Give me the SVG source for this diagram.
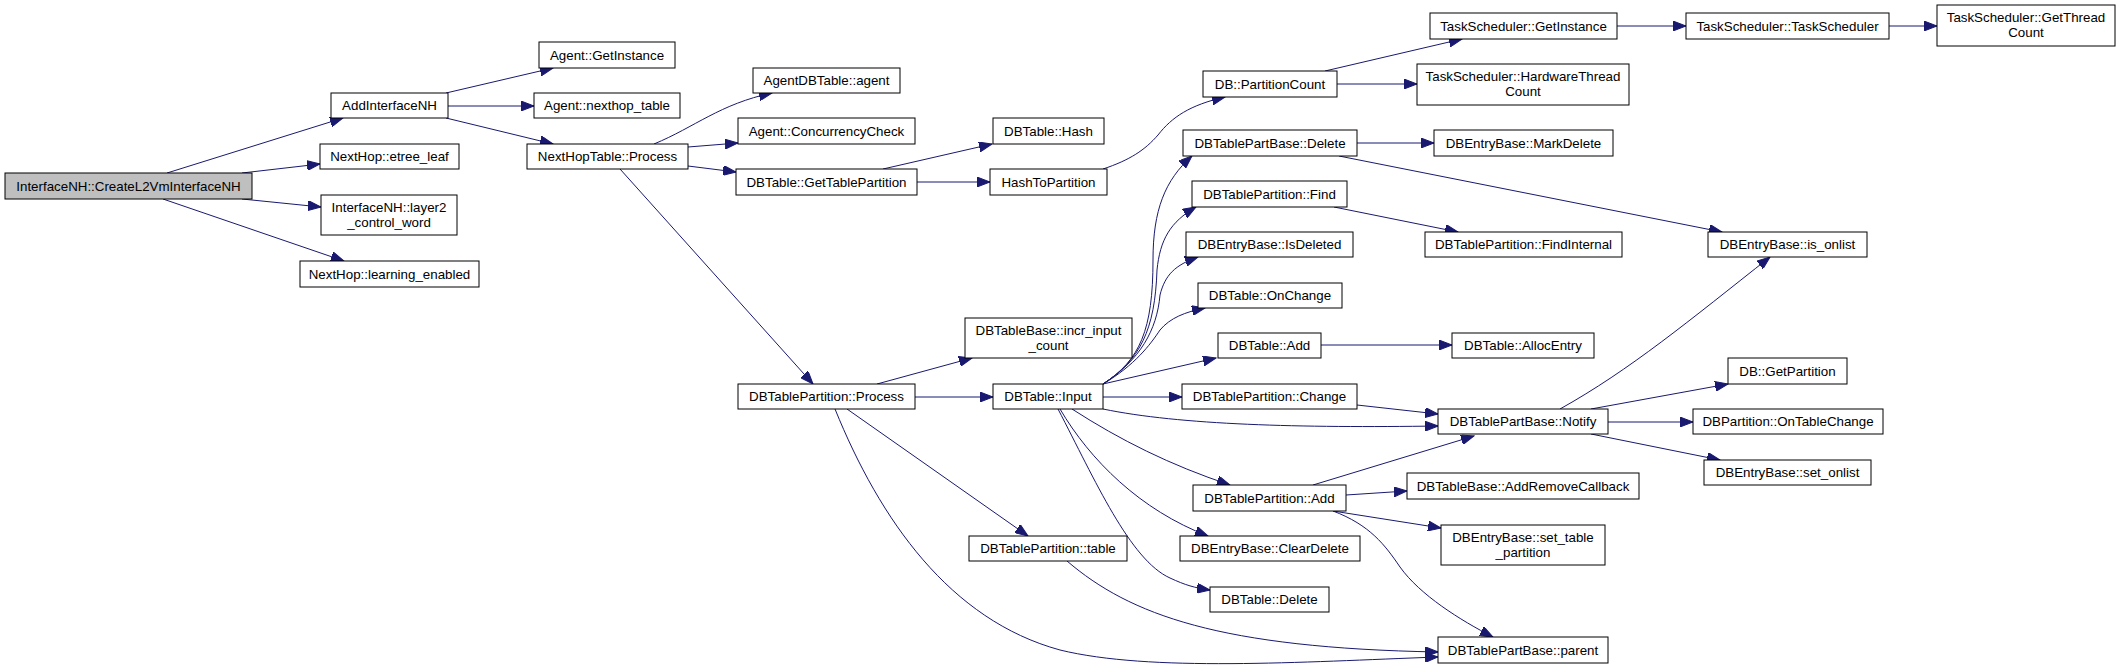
<svg xmlns="http://www.w3.org/2000/svg" width="2120" height="669" viewBox="0 0 2120 669">
<style>
.n rect{fill:#ffffff;stroke:#000000;stroke-width:1}
.n.root rect{fill:#bfbfbf}
.n text{font-family:"Liberation Sans",Arial,Helvetica,sans-serif;font-size:13.33px;text-anchor:middle;fill:#000000}
#edges path{fill:none;stroke:#191970;stroke-width:1;marker-end:url(#arr)}
</style>
<defs>
<marker id="arr" markerUnits="userSpaceOnUse" markerWidth="14" markerHeight="10" refX="13" refY="5" orient="auto">
<path d="M0,0 L13,5 L0,10 Z" fill="#191970" stroke="#191970"/>
</marker>
</defs>
<rect x="0" y="0" width="2120" height="669" fill="#ffffff"/>
<g id="edges">
<path d="M167,173 L343,118"/>
<path d="M242,173 L320,164"/>
<path d="M242,199 L321,207"/>
<path d="M163,199 L344,261"/>
<path d="M446,93 L553,68"/>
<path d="M448,106 L534,106"/>
<path d="M446,118 L553,144"/>
<path d="M654,144 C695,127 720,104 772,93"/>
<path d="M688,147 L738,143"/>
<path d="M688,166 L736,172"/>
<path d="M620,169 L813,384"/>
<path d="M883,169 L992,144"/>
<path d="M917,182 L990,182"/>
<path d="M1103,169 C1130,160 1145,150 1158,135 C1172,117 1190,105 1225,97"/>
<path d="M1325,71 L1462,39"/>
<path d="M1337,84 L1417,84"/>
<path d="M1617,26 L1686,26"/>
<path d="M1889,26 L1937,26"/>
<path d="M1357,143 L1434,143"/>
<path d="M1339,156 L1722,232"/>
<path d="M1334,207 L1458,232"/>
<path d="M1103,384 C1140,360 1153,330 1153,260 C1153,210 1165,180 1192,156"/>
<path d="M1103,384 C1140,360 1155,330 1157,270 C1160,240 1170,222 1196,207"/>
<path d="M1103,384 C1140,360 1157,330 1160,295 C1165,275 1175,265 1198,257"/>
<path d="M1103,384 C1135,365 1150,345 1160,330 C1170,318 1185,312 1205,308"/>
<path d="M1103,384 L1216,358"/>
<path d="M1103,397 L1182,397"/>
<path d="M1103,409 C1180,425 1300,428 1438,426"/>
<path d="M1072,409 C1120,440 1170,465 1230,485"/>
<path d="M1060,409 C1090,460 1140,510 1208,536"/>
<path d="M1058,409 C1095,480 1130,560 1170,578 C1185,585 1195,588 1210,590"/>
<path d="M1321,345 L1452,345"/>
<path d="M1357,405 L1438,414"/>
<path d="M1313,485 L1474,436"/>
<path d="M1346,495 L1407,491"/>
<path d="M1333,511 L1441,528"/>
<path d="M1333,511 C1370,525 1385,545 1400,567 C1420,595 1460,620 1493,637"/>
<path d="M1067,561 C1130,615 1220,648 1438,652"/>
<path d="M835,409 C880,520 950,620 1060,650 C1150,672 1300,662 1438,657"/>
<path d="M847,409 L1028,536"/>
<path d="M877,384 L972,358"/>
<path d="M915,397 L993,397"/>
<path d="M1560,409 C1630,370 1690,320 1770,257"/>
<path d="M1591,409 L1728,384"/>
<path d="M1608,422 L1693,422"/>
<path d="M1591,434 L1720,460"/>
</g>
<g id="n_create" class="n root"><rect x="5" y="173" width="247" height="26"/><text x="128.5" y="190.5">InterfaceNH::CreateL2VmInterfaceNH</text></g>
<g id="n_addif" class="n"><rect x="331" y="93" width="117" height="25"/><text x="389.5" y="110">AddInterfaceNH</text></g>
<g id="n_etree" class="n"><rect x="320" y="144" width="139" height="25"/><text x="389.5" y="161">NextHop::etree_leaf</text></g>
<g id="n_l2cw" class="n"><rect x="321" y="195" width="136" height="40"/><text x="389" y="211.5">InterfaceNH::layer2</text><text x="389" y="226.5">_control_word</text></g>
<g id="n_learn" class="n"><rect x="300" y="261" width="179" height="26"/><text x="389.5" y="278.5">NextHop::learning_enabled</text></g>
<g id="n_agentinst" class="n"><rect x="539" y="42" width="136" height="26"/><text x="607" y="59.5">Agent::GetInstance</text></g>
<g id="n_nhtable" class="n"><rect x="534" y="93" width="146" height="25"/><text x="607" y="110">Agent::nexthop_table</text></g>
<g id="n_nhtproc" class="n"><rect x="527" y="144" width="161" height="25"/><text x="607.5" y="161">NextHopTable::Process</text></g>
<g id="n_agentdb" class="n"><rect x="753" y="68" width="147" height="25"/><text x="826.5" y="85">AgentDBTable::agent</text></g>
<g id="n_conc" class="n"><rect x="738" y="118" width="177" height="26"/><text x="826.5" y="135.5">Agent::ConcurrencyCheck</text></g>
<g id="n_gtp" class="n"><rect x="736" y="169" width="181" height="26"/><text x="826.5" y="186.5">DBTable::GetTablePartition</text></g>
<g id="n_hash" class="n"><rect x="993" y="118" width="111" height="26"/><text x="1048.5" y="135.5">DBTable::Hash</text></g>
<g id="n_h2p" class="n"><rect x="990" y="169" width="117" height="26"/><text x="1048.5" y="186.5">HashToPartition</text></g>
<g id="n_pcount" class="n"><rect x="1203" y="71" width="134" height="26"/><text x="1270" y="88.5">DB::PartitionCount</text></g>
<g id="n_pbdel" class="n"><rect x="1183" y="130" width="174" height="26"/><text x="1270" y="147.5">DBTablePartBase::Delete</text></g>
<g id="n_find" class="n"><rect x="1192" y="181" width="155" height="26"/><text x="1269.5" y="198.5">DBTablePartition::Find</text></g>
<g id="n_isdel" class="n"><rect x="1186" y="232" width="167" height="25"/><text x="1269.5" y="249">DBEntryBase::IsDeleted</text></g>
<g id="n_onchange" class="n"><rect x="1198" y="283" width="144" height="25"/><text x="1270" y="300">DBTable::OnChange</text></g>
<g id="n_incr" class="n"><rect x="965" y="318" width="167" height="40"/><text x="1048.5" y="334.5">DBTableBase::incr_input</text><text x="1048.5" y="349.5">_count</text></g>
<g id="n_tadd" class="n"><rect x="1218" y="333" width="103" height="25"/><text x="1269.5" y="350">DBTable::Add</text></g>
<g id="n_tpproc" class="n"><rect x="738" y="384" width="177" height="25"/><text x="826.5" y="401">DBTablePartition::Process</text></g>
<g id="n_input" class="n"><rect x="993" y="384" width="110" height="25"/><text x="1048" y="401">DBTable::Input</text></g>
<g id="n_change" class="n"><rect x="1182" y="384" width="175" height="25"/><text x="1269.5" y="401">DBTablePartition::Change</text></g>
<g id="n_tpadd" class="n"><rect x="1193" y="485" width="153" height="26"/><text x="1269.5" y="502.5">DBTablePartition::Add</text></g>
<g id="n_tptable" class="n"><rect x="969" y="536" width="158" height="25"/><text x="1048" y="553">DBTablePartition::table</text></g>
<g id="n_cleardel" class="n"><rect x="1180" y="536" width="180" height="25"/><text x="1270" y="553">DBEntryBase::ClearDelete</text></g>
<g id="n_tdel" class="n"><rect x="1210" y="587" width="119" height="25"/><text x="1269.5" y="604">DBTable::Delete</text></g>
<g id="n_tsinst" class="n"><rect x="1430" y="13" width="187" height="26"/><text x="1523.5" y="30.5">TaskScheduler::GetInstance</text></g>
<g id="n_tsts" class="n"><rect x="1686" y="13" width="203" height="26"/><text x="1787.5" y="30.5">TaskScheduler::TaskScheduler</text></g>
<g id="n_tsgtc" class="n"><rect x="1937" y="5" width="178" height="41"/><text x="2026" y="21.5">TaskScheduler::GetThread</text><text x="2026" y="36.5">Count</text></g>
<g id="n_tshw" class="n"><rect x="1417" y="64" width="212" height="41"/><text x="1523" y="80.5">TaskScheduler::HardwareThread</text><text x="1523" y="95.5">Count</text></g>
<g id="n_markdel" class="n"><rect x="1434" y="130" width="179" height="26"/><text x="1523.5" y="147.5">DBEntryBase::MarkDelete</text></g>
<g id="n_findint" class="n"><rect x="1425" y="232" width="197" height="25"/><text x="1523.5" y="249">DBTablePartition::FindInternal</text></g>
<g id="n_isonlist" class="n"><rect x="1708" y="232" width="159" height="25"/><text x="1787.5" y="249">DBEntryBase::is_onlist</text></g>
<g id="n_alloc" class="n"><rect x="1452" y="333" width="142" height="25"/><text x="1523" y="350">DBTable::AllocEntry</text></g>
<g id="n_getpart" class="n"><rect x="1728" y="358" width="119" height="26"/><text x="1787.5" y="375.5">DB::GetPartition</text></g>
<g id="n_notify" class="n"><rect x="1438" y="409" width="170" height="25"/><text x="1523" y="426">DBTablePartBase::Notify</text></g>
<g id="n_ontc" class="n"><rect x="1693" y="409" width="190" height="25"/><text x="1788" y="426">DBPartition::OnTableChange</text></g>
<g id="n_setonlist" class="n"><rect x="1704" y="460" width="167" height="25"/><text x="1787.5" y="477">DBEntryBase::set_onlist</text></g>
<g id="n_addrm" class="n"><rect x="1407" y="473" width="232" height="26"/><text x="1523" y="490.5">DBTableBase::AddRemoveCallback</text></g>
<g id="n_settp" class="n"><rect x="1441" y="525" width="164" height="40"/><text x="1523" y="541.5">DBEntryBase::set_table</text><text x="1523" y="556.5">_partition</text></g>
<g id="n_parent" class="n"><rect x="1438" y="637" width="170" height="26"/><text x="1523" y="654.5">DBTablePartBase::parent</text></g>
</svg>
